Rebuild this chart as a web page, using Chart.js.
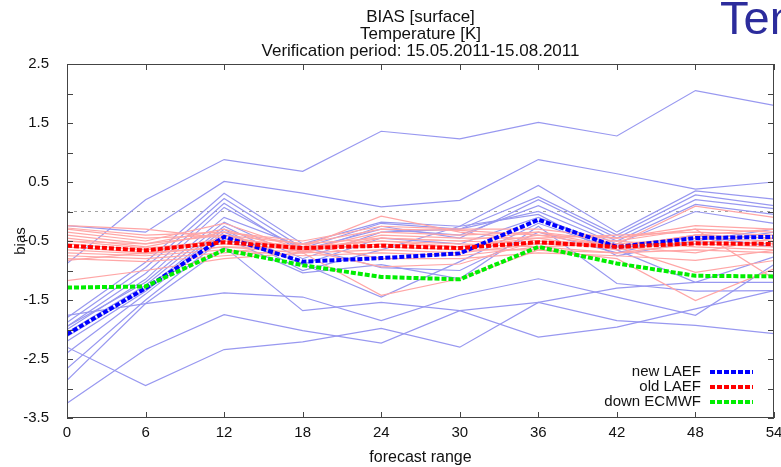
<!DOCTYPE html>
<html>
<head>
<meta charset="utf-8">
<title>BIAS [surface] Temperature</title>
<script src="https://cdn.jsdelivr.net/npm/chart.js@4.4.1/dist/chart.umd.min.js"></script>
<style>
  html, body { margin: 0; padding: 0; background: #fff; overflow: hidden; }
  #wrap { position: relative; width: 781px; height: 467px; overflow: hidden; }
  #slideTitle { position: absolute; left: 720px; top: -10px; font: 47px "Liberation Sans", Arial, sans-serif; color: #2c2c9c; white-space: nowrap; }
  #plotTitle { position: absolute; left: 67px; width: 707px; top: 8px; text-align: center; font: 17px/17px "Liberation Sans", Arial, sans-serif; color: #111; }
  canvas { position: absolute; left: 0; top: 0; }
</style>
</head>
<body>
<div id="wrap">
  <canvas id="biasChart" width="781" height="467"></canvas>
  <div id="plotTitle">BIAS [surface]<br>Temperature [K]<br>Verification period: 15.05.2011-15.08.2011</div>
  <div id="slideTitle">Temperature</div>
</div>
<script>
// forecast range (h) and bias tick labels
const hours = [0, 6, 12, 18, 24, 30, 36, 42, 48, 54];
const yTicks = [-3.5, -2.5, -1.5, -0.5, 0.5, 1.5, 2.5];

// ensemble means
const newLaef   = [-2.08, -1.30, -0.43, -0.85, -0.79, -0.71, -0.14, -0.60, -0.45, -0.43];
const oldLaef   = [-0.58, -0.66, -0.52, -0.62, -0.58, -0.62, -0.52, -0.60, -0.54, -0.55];
const downEcmwf = [-1.29, -1.27, -0.65, -0.91, -1.11, -1.15, -0.60, -0.88, -1.09, -1.10];

// single members, new LAEF
const newLaefMembers = [
  [-0.88,  0.20,  0.88,  0.68,  1.36,  1.23,  1.51,  1.28,  2.05,  1.80],
  [-0.24, -0.35,  0.51,  0.31,  0.08,  0.19,  0.88,  0.64,  0.38,  0.50],
  [-1.80, -0.86,  0.31, -0.55, -0.18, -0.25,  0.44, -0.35,  0.35,  0.21],
  [-1.88, -0.95,  0.22, -0.62, -0.20, -0.30,  0.25, -0.40,  0.28,  0.10],
  [-1.95, -1.05,  0.14, -0.70, -0.25, -0.45,  0.20, -0.45,  0.20,  0.05],
  [-2.00, -1.15,  0.07, -0.65, -0.30, -0.40,  0.10, -0.50,  0.12, -0.05],
  [-2.05, -1.25, -0.18, -0.80, -0.35, -0.30,  0.00, -0.55,  0.00, -0.20],
  [-2.12, -1.32, -0.25, -0.90, -0.45, -0.55, -0.10, -0.60, -0.55, -0.35],
  [-2.40, -1.40, -0.35, -0.89, -1.45, -0.85, -0.20, -0.65, -1.20, -0.77],
  [-2.66, -1.50, -0.45, -1.04, -0.90, -1.14, -0.25, -1.22, -1.35, -1.34],
  [-2.86, -1.56, -0.60, -1.68, -1.54, -1.68, -1.54, -1.85, -1.93, -2.07],
  [-1.76, -1.56, -1.38, -1.45, -1.85, -1.42, -1.14, -1.45, -1.76, -0.90],
  [-3.25, -2.34, -1.75, -2.02, -2.23, -1.68, -2.13, -1.96, -1.65, -1.34],
  [-2.30, -2.95, -2.34, -2.21, -1.98, -2.30, -1.54, -1.30, -1.20, -1.20],
  [-1.95, -1.20, -0.10, -0.60, -0.95, -1.00, -0.35, -0.70, -0.40, -0.60],
  [-2.20, -1.35, -0.30, -1.00, -0.65, -0.25, -0.05, -0.75, -0.50, -0.30]
];

// single members, old LAEF
const oldLaefMembers = [
  [-0.24, -0.30, -0.45, -0.60, -0.08, -0.35, -0.50, -0.55,  0.09, -0.10],
  [-0.30, -0.45, -0.40, -0.55, -0.30, -0.32, -0.40, -0.45, -0.24, -0.30],
  [-0.35, -0.50, -0.20, -0.65, -0.35, -0.40, -0.35, -0.50, -0.30, -0.35],
  [-0.40, -0.55, -0.30, -0.70, -0.40, -0.45, -0.45, -0.40, -0.35, -0.40],
  [-0.45, -0.60, -0.35, -0.55, -0.45, -0.50, -0.55, -0.60, -0.40, -0.45],
  [-0.50, -0.62, -0.50, -0.60, -0.50, -0.55, -0.60, -0.55, -0.45, -0.50],
  [-0.55, -0.65, -0.55, -0.65, -0.55, -0.60, -0.45, -0.65, -0.50, -0.55],
  [-0.60, -0.70, -0.45, -0.60, -0.60, -0.65, -0.65, -0.70, -0.55, -0.60],
  [-0.65, -0.72, -0.60, -0.70, -0.65, -0.70, -0.55, -0.50, -0.60, -0.65],
  [-0.70, -0.75, -0.65, -0.75, -0.70, -0.75, -0.60, -0.70, -0.65, -0.70],
  [-0.75, -0.80, -0.70, -0.55, -0.80, -0.80, -0.70, -0.75, -0.83, -0.66],
  [-0.80, -0.85, -0.75, -0.65, -0.94, -0.89, -0.50, -0.60, -1.03, -0.83],
  [-1.17, -1.00, -0.80, -0.70, -1.42, -1.14, -0.65, -0.80, -1.51, -0.97],
  [-0.28, -0.40, -0.35, -0.50, -0.25, -0.30, -0.30, -0.45, -0.30, -1.14],
  [-0.83, -0.70, -0.60, -0.62, -0.50, -0.60, -0.40, -0.60, -0.70, -0.45],
  [-0.50, -0.55, -0.40, -0.68, -0.45, -0.50, -0.35, -0.60, -0.40, -0.30]
];

const zeroLine = hours.map(() => 0);

const FONT = '"Liberation Sans", Arial, sans-serif';
const legendNames = ['new LAEF', 'old LAEF', 'down ECMWF'];

const datasets = [
  { label: 'down ECMWF', data: downEcmwf, borderColor: '#00ee00', borderWidth: 4, borderDash: [5, 2], order: 0 },
  { label: 'old LAEF', data: oldLaef, borderColor: '#ff0000', borderWidth: 4, borderDash: [5, 2], order: 1 },
  { label: 'new LAEF', data: newLaef, borderColor: '#0000ff', borderWidth: 4, borderDash: [5, 2], order: 2 }
];
oldLaefMembers.forEach(m => datasets.push({ data: m, borderColor: '#ffa6a6', borderWidth: 1.2, order: 10 }));
newLaefMembers.forEach(m => datasets.push({ data: m, borderColor: '#9898f0', borderWidth: 1.2, order: 20 }));
datasets.push({ data: zeroLine, borderColor: '#a0a0a0', borderWidth: 1, borderDash: [3, 4], order: 30 });

// border, inward ticks on all four sides, legend in the lower right corner
const framePlugin = {
  id: 'frame',
  afterDatasetsDraw(chart) {
    const { ctx, chartArea: a, scales: { x, y } } = chart;
    ctx.save();
    ctx.strokeStyle = '#444';
    ctx.lineWidth = 1;
    ctx.beginPath();
    hours.forEach(h => {
      const px = Math.round(x.getPixelForValue(h)) + 0.5;
      ctx.moveTo(px, a.bottom); ctx.lineTo(px, a.bottom - 6);
      ctx.moveTo(px, a.top); ctx.lineTo(px, a.top + 6);
    });
    for (let v = yTicks[0]; v <= yTicks[yTicks.length - 1]; v += 0.5) {
      const py = Math.round(y.getPixelForValue(v)) + 0.5;
      ctx.moveTo(a.left, py); ctx.lineTo(a.left + 6, py);
      ctx.moveTo(a.right, py); ctx.lineTo(a.right - 6, py);
    }
    ctx.stroke();
    ctx.strokeRect(Math.round(a.left) + 0.5, Math.round(a.top) + 0.5,
      Math.round(a.width) - 1, Math.round(a.height) - 1);

    ctx.font = '15px ' + FONT;
    ctx.textAlign = 'right';
    ctx.textBaseline = 'middle';
    ctx.fillStyle = '#111';
    legendNames.forEach((name, i) => {
      const ds = chart.data.datasets.find(d => d.label === name);
      const ly = a.bottom - 46 + i * 15;
      ctx.fillText(name, a.right - 73, ly);
      ctx.strokeStyle = ds.borderColor;
      ctx.lineWidth = 4;
      ctx.setLineDash(ds.borderDash);
      ctx.beginPath();
      ctx.moveTo(a.right - 64, ly); ctx.lineTo(a.right - 21, ly);
      ctx.stroke();
    });
    ctx.restore();
  }
};

new Chart(document.getElementById('biasChart'), {
  type: 'line',
  data: { labels: hours, datasets },
  options: {
    responsive: false,
    animation: false,
    events: [],
    layout: { padding: { top: 64, right: 7, left: 0, bottom: 0 } },
    elements: { point: { radius: 0 }, line: { tension: 0 } },
    plugins: { legend: { display: false }, tooltip: { enabled: false } },
    scales: {
      x: {
        type: 'linear',
        min: 0,
        max: 54,
        afterBuildTicks: s => { s.ticks = hours.map(v => ({ value: v })); },
        afterFit: s => { s.height = 49; },
        grid: { display: false },
        border: { display: false },
        ticks: { color: '#111', font: { family: FONT, size: 15 }, padding: -2, maxRotation: 0 },
        title: { display: true, text: 'forecast range', color: '#111', font: { family: FONT, size: 16 }, padding: { top: 0, bottom: 0 } }
      },
      y: {
        min: -3.5,
        max: 2.5,
        afterBuildTicks: s => { s.ticks = yTicks.map(v => ({ value: v })); },
        afterFit: s => { s.width = 67; },
        grid: { display: false },
        border: { display: false },
        ticks: { color: '#111', font: { family: FONT, size: 15 }, padding: 10 },
        title: { display: true, text: 'bias', color: '#111', font: { family: FONT, size: 15 }, padding: { top: 12, bottom: 0 } }
      }
    }
  },
  plugins: [framePlugin]
});
</script>
</body>
</html>
